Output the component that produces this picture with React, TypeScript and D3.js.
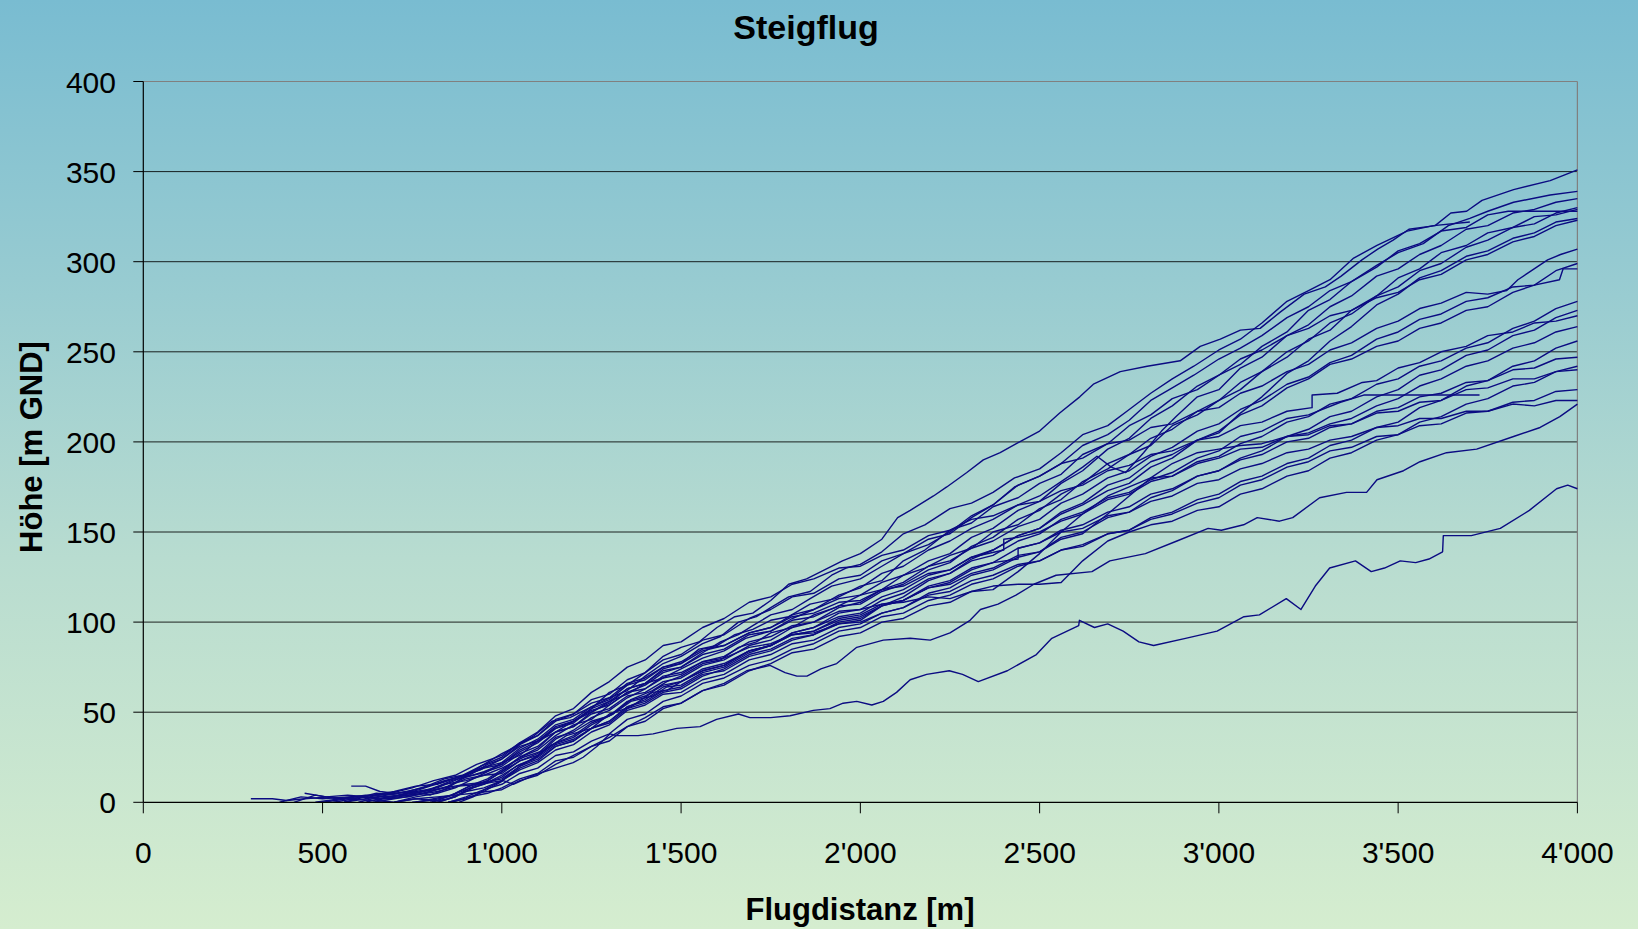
import React from "react";
import * as d3 from "d3";

type P = [number, number];

const xTicks = [0, 500, 1000, 1500, 2000, 2500, 3000, 3500, 4000];
const yTicks = [0, 50, 100, 150, 200, 250, 300, 350, 400];
const xTickLabels = ["0", "500", "1'000", "1'500", "2'000", "2'500", "3'000", "3'500", "4'000"];

const flightA: P[] = [[650,1],[700,0],[760,3],[820,5],[870,8],[920,13],[960,17],[1000,22],[1050,26],[1100,34],[1150,39],[1200,45],[1250,52],[1300,61],[1350,65],[1400,72],[1450,81],[1500,86],[1550,89],[1600,97],[1650,103],[1700,105],[1750,112],[1800,121],[1850,124],[1900,129],[1950,134],[2000,138],[2060,146],[2104,158],[2139,162],[2204,170],[2241,175],[2297,183],[2343,190],[2390,194],[2435,199],[2500,206],[2556,216],[2612,225],[2650,232],[2725,239],[2800,242],[2892,245],[2948,253],[3004,257],[3060,262],[3115,263],[3171,272],[3238,282],[3297,286],[3341,292],[3399,301],[3443,307],[3486,312],[3530,318],[3603,320],[3647,327],[3691,328],[3734,334],[3822,340],[3924,345],[4000,351]];
const flightB: P[] = [[580,9],[620,9],[660,6],[700,5],[750,6],[800,4],[850,8],[900,15],[950,21],[1000,27],[1040,31],[1090,37],[1140,45],[1190,47],[1250,53],[1300,58],[1350,62],[1400,70],[1450,77],[1500,81],[1560,88],[1610,92],[1660,100],[1710,103],[1750,108],[1800,114],[1860,117],[1920,126],[1960,130],[2000,132],[2060,139],[2120,149],[2180,154],[2250,163],[2310,166],[2370,172],[2430,180],[2500,185],[2560,194],[2620,204],[2690,209],[2750,218],[2810,227],[2870,235],[2930,242],[3000,251],[3060,257],[3120,266],[3190,278],[3250,284],[3310,290],[3376,302],[3441,309],[3525,317],[3599,320],[3700,322]];
const flightC: P[] = [[700,0],[760,2],[820,1],[870,5],[920,10],[960,13],[1000,18],[1050,25],[1100,29],[1150,37],[1200,43],[1250,46],[1300,54],[1350,61],[1400,65],[1450,72],[1500,75],[1560,83],[1610,89],[1660,93],[1700,98],[1750,104],[1810,107],[1860,113],[1920,120],[2000,124],[2060,131],[2120,138],[2190,143],[2250,150],[2310,159],[2370,165],[2430,175],[2500,181],[2560,188],[2620,198],[2690,204],[2750,212],[2810,223],[2870,230],[2930,237],[3000,246],[3060,252],[3120,259],[3190,269],[3250,275],[3310,284],[3370,289],[3440,298],[3500,305],[3570,310],[3640,320],[3700,324],[3750,328],[3822,333],[3924,337],[4000,339]];
const flightD: P[] = [[560,0],[620,3],[680,2],[740,3],[800,6],[850,9],[900,14],[950,17],[1000,21],[1050,28],[1100,33],[1150,41],[1200,45],[1250,50],[1300,56],[1350,60],[1400,66],[1450,69],[1500,74],[1560,80],[1620,84],[1680,91],[1750,95],[1810,102],[1870,107],[1940,115],[2000,119],[2060,127],[2120,131],[2190,140],[2250,145],[2310,152],[2370,157],[2440,165],[2500,170],[2560,178],[2620,186],[2660,192],[2700,186],[2740,183],[2790,194],[2840,206],[2880,214],[2940,225],[3000,229],[3060,241],[3120,247],[3190,259],[3250,265],[3310,275],[3370,281],[3440,292],[3500,296],[3560,304],[3620,309],[3690,318],[3750,320],[3820,327],[3880,329],[3940,333],[4000,335]];
const flightE: P[] = [[750,0],[800,1],[850,3],[900,7],[950,10],[1000,14],[1040,20],[1090,24],[1140,32],[1200,36],[1250,43],[1310,49],[1360,57],[1420,62],[1460,67],[1500,70],[1560,77],[1610,79],[1660,86],[1710,89],[1750,94],[1810,97],[1870,104],[1930,108],[2000,115],[2060,118],[2120,126],[2180,130],[2250,137],[2310,141],[2370,150],[2440,154],[2500,163],[2560,168],[2620,178],[2690,185],[2750,193],[2810,198],[2870,209],[2940,215],[3000,223],[3060,229],[3120,239],[3190,247],[3250,257],[3310,262],[3370,273],[3440,281],[3500,291],[3560,296],[3620,305],[3690,309],[3750,316],[3820,319],[3880,325],[3940,326],[4000,329]];
const flightF: P[] = [[820,0],[870,3],[910,8],[960,12],[1000,17],[1050,25],[1100,30],[1150,39],[1200,42],[1250,50],[1300,55],[1350,63],[1400,66],[1450,74],[1500,77],[1550,85],[1600,87],[1650,93],[1700,96],[1750,101],[1800,103],[1860,110],[1930,113],[2000,120],[2060,123],[2120,134],[2180,140],[2250,151],[2310,155],[2370,164],[2440,169],[2500,177],[2560,182],[2620,193],[2690,199],[2750,209],[2810,215],[2870,224],[2940,229],[3000,237],[3060,243],[3120,253],[3190,261],[3250,273],[3310,279],[3370,289],[3440,297],[3500,306],[3560,310],[3620,317],[3690,319],[3750,326],[3807,328],[4000,328]];
const flightG: P[] = [[500,0],[570,2],[640,1],[710,3],[780,5],[840,8],[900,13],[950,15],[1000,19],[1060,25],[1120,29],[1180,37],[1250,41],[1300,49],[1360,53],[1420,61],[1460,62],[1500,67],[1560,73],[1620,76],[1690,84],[1750,87],[1810,94],[1870,97],[1940,103],[2000,105],[2060,112],[2120,116],[2190,124],[2250,127],[2310,135],[2370,140],[2440,148],[2500,152],[2560,161],[2620,166],[2690,176],[2750,180],[2810,189],[2870,193],[2940,201],[3000,205],[3060,216],[3120,225],[3190,238],[3250,245],[3310,256],[3370,264],[3440,276],[3500,282],[3560,291],[3620,295],[3690,303],[3750,306],[3820,313],[3880,316],[3940,322],[4000,324]];
const flightH: P[] = [[620,0],[680,3],[740,4],[800,7],[860,12],[910,15],[960,21],[1000,24],[1050,32],[1100,37],[1150,46],[1200,49],[1250,57],[1300,60],[1350,68],[1400,72],[1450,79],[1500,82],[1560,90],[1620,93],[1690,102],[1750,107],[1810,114],[1870,116],[1940,124],[2000,126],[2060,134],[2120,138],[2190,146],[2250,149],[2310,158],[2370,165],[2440,176],[2500,181],[2560,188],[2620,191],[2690,199],[2750,201],[2810,208],[2870,210],[2940,217],[3000,219],[3060,227],[3120,231],[3190,239],[3250,243],[3310,251],[3370,255],[3440,263],[3500,267],[3560,274],[3620,277],[3690,283],[3750,282],[3803,284],[3834,290],[3917,301],[3953,304],[4000,307]];
const flightI: P[] = [[760,0],[810,2],[860,4],[910,9],[960,12],[1000,17],[1050,23],[1100,26],[1150,33],[1200,37],[1250,44],[1310,49],[1360,56],[1420,59],[1460,64],[1500,65],[1560,72],[1620,75],[1690,83],[1750,87],[1810,94],[1870,97],[1940,105],[2000,107],[2060,114],[2120,118],[2190,126],[2250,129],[2310,136],[2370,140],[2440,148],[2500,152],[2560,160],[2620,165],[2690,173],[2750,177],[2810,186],[2870,191],[2940,201],[3000,206],[3060,215],[3120,220],[3190,230],[3250,235],[3310,243],[3370,246],[3440,253],[3500,256],[3560,263],[3620,266],[3690,273],[3750,275],[3820,283],[3880,287],[3940,295],[4000,299]];
const flightJ: P[] = [[480,0],[550,2],[620,4],[690,3],[760,6],[820,8],[880,13],[940,16],[1000,20],[1050,27],[1100,31],[1150,39],[1200,42],[1250,49],[1300,52],[1350,59],[1400,61],[1450,67],[1500,69],[1560,76],[1620,79],[1690,87],[1750,90],[1810,97],[1870,100],[1940,108],[2000,111],[2060,118],[2120,122],[2190,131],[2250,134],[2310,141],[2370,145],[2440,153],[2500,157],[2560,166],[2620,171],[2690,180],[2750,184],[2810,192],[2870,197],[2940,206],[3000,210],[3060,218],[3120,223],[3190,232],[3250,236],[3310,244],[3370,248],[3440,257],[3500,261],[3560,268],[3620,271],[3690,278],[3750,280],[3820,286],[3880,287],[3950,290],[3960,296],[4000,296]];
const flightK: P[] = [[380,0],[440,3],[500,2],[570,3],[640,4],[710,5],[780,8],[840,12],[900,15],[950,19],[1000,21],[1050,29],[1100,34],[1150,42],[1200,45],[1250,51],[1300,54],[1350,61],[1400,63],[1450,69],[1500,71],[1560,78],[1620,81],[1690,89],[1750,92],[1810,98],[1870,100],[1940,106],[2000,107],[2060,110],[2120,111],[2190,114],[2250,113],[2310,117],[2370,118],[2440,128],[2500,138],[2560,150],[2620,160],[2690,170],[2750,175],[2810,180],[2870,181],[2940,189],[3000,192],[3060,199],[3120,203],[3190,211],[3250,214],[3310,221],[3370,224],[3440,232],[3500,235],[3560,242],[3620,245],[3690,252],[3750,255],[3820,263],[3880,267],[3940,274],[4000,278]];
const flightL: P[] = [[800,0],[850,2],[900,6],[950,8],[1000,12],[1050,18],[1100,22],[1150,29],[1200,32],[1250,39],[1300,43],[1350,51],[1400,54],[1450,60],[1500,61],[1560,68],[1620,71],[1690,79],[1750,82],[1810,88],[1870,90],[1940,97],[2000,99],[2060,105],[2120,108],[2190,116],[2250,119],[2310,126],[2370,129],[2440,136],[2500,139],[2560,147],[2620,150],[2690,158],[2750,161],[2810,169],[2870,173],[2940,181],[3000,184],[3060,191],[3120,195],[3190,203],[3250,207],[3310,214],[3370,217],[3440,225],[3500,229],[3560,237],[3620,240],[3690,248],[3750,251],[3820,259],[3880,262],[3940,269],[4000,273]];
const flightM: P[] = [[560,0],[620,2],[680,4],[740,6],[790,9],[840,13],[890,15],[940,20],[1000,25],[1050,33],[1100,39],[1150,48],[1200,52],[1250,61],[1300,67],[1350,75],[1400,79],[1450,87],[1500,89],[1560,97],[1620,102],[1690,111],[1750,114],[1810,121],[1870,124],[1940,130],[2000,131],[2060,137],[2120,140],[2190,148],[2250,151],[2310,157],[2370,159],[2440,165],[2500,167],[2560,173],[2620,176],[2690,184],[2750,187],[2810,193],[2870,195],[2940,201],[3000,203],[3060,209],[3120,211],[3190,217],[3260,219],[3260,226],[3330,227],[3400,233],[3440,234],[3500,241],[3560,244],[3620,250],[3690,253],[3750,259],[3820,261],[3880,266],[3940,267],[4000,270]];
const flightN: P[] = [[820,0],[870,3],[920,8],[960,11],[1000,15],[1050,21],[1100,25],[1150,32],[1200,35],[1250,41],[1300,45],[1350,53],[1400,57],[1450,64],[1500,67],[1560,73],[1620,76],[1690,84],[1750,87],[1810,93],[1870,95],[1940,102],[2000,104],[2060,110],[2120,112],[2190,119],[2250,121],[2310,127],[2370,130],[2440,137],[2500,139],[2560,146],[2620,149],[2690,160],[2750,170],[2810,180],[2870,188],[2940,194],[3000,196],[3060,198],[3120,199],[3190,203],[3250,205],[3310,210],[3370,213],[3440,220],[3500,224],[3560,231],[3620,235],[3690,242],[3750,245],[3820,252],[3880,255],[3940,261],[4000,264]];
const flightO: P[] = [[850,0],[900,3],[950,7],[1000,10],[1050,16],[1100,19],[1150,26],[1200,28],[1250,34],[1300,38],[1350,46],[1400,49],[1450,56],[1500,59],[1560,66],[1620,69],[1690,76],[1750,79],[1810,85],[1870,88],[1940,95],[2000,97],[2060,103],[2120,105],[2190,112],[2250,115],[2310,121],[2370,124],[2440,131],[2500,134],[2560,140],[2620,142],[2690,149],[2750,151],[2810,158],[2870,161],[2940,168],[3000,171],[3060,178],[3120,181],[3190,188],[3250,191],[3310,198],[3370,201],[3440,208],[3500,211],[3560,219],[3620,223],[3690,231],[3750,234],[3820,242],[3880,245],[3940,252],[4000,256]];
const flightP: P[] = [[420,0],[480,4],[540,2],[600,3],[660,2],[720,4],[780,6],[840,8],[900,10],[950,11],[1000,13],[1050,20],[1100,24],[1150,31],[1200,34],[1250,41],[1300,45],[1350,53],[1400,56],[1450,62],[1500,64],[1560,71],[1620,73],[1690,81],[1750,84],[1810,90],[1870,93],[1940,100],[2000,102],[2060,109],[2120,112],[2190,120],[2250,123],[2310,130],[2370,133],[2440,141],[2500,144],[2560,151],[2620,154],[2690,161],[2750,164],[2810,171],[2870,174],[2940,181],[3000,184],[3060,190],[3120,193],[3190,200],[3250,202],[3310,208],[3370,210],[3440,217],[3500,219],[3560,225],[3620,227],[3690,233],[3750,234],[3820,240],[3880,241],[3940,246],[4000,247]];
const flightQ: P[] = [[860,0],[910,3],[960,5],[1000,8],[1050,13],[1100,16],[1150,23],[1200,25],[1250,31],[1300,34],[1350,42],[1400,45],[1450,52],[1500,55],[1560,62],[1620,65],[1690,73],[1750,77],[1810,83],[1870,85],[1940,92],[2000,94],[2060,100],[2120,102],[2190,109],[2250,111],[2310,117],[2370,120],[2440,121],[2500,121],[2560,122],[2620,134],[2690,145],[2750,150],[2810,154],[2870,156],[2940,162],[3000,164],[3060,171],[3120,174],[3190,181],[3250,184],[3310,191],[3370,194],[3440,201],[3500,204],[3560,211],[3620,214],[3690,221],[3750,224],[3820,231],[3880,233],[3940,239],[4000,242]];
const flightR: P[] = [[530,0],[590,2],[650,5],[710,4],[770,7],[830,11],[880,14],[940,19],[1000,22],[1050,30],[1100,35],[1150,43],[1200,46],[1250,53],[1300,57],[1350,65],[1400,68],[1450,75],[1500,77],[1560,84],[1620,87],[1690,94],[1750,97],[1810,103],[1870,105],[1940,111],[2000,112],[2060,118],[2120,120],[2190,127],[2250,129],[2310,136],[2400,140],[2400,146],[2440,147],[2500,150],[2560,156],[2620,160],[2690,168],[2750,171],[2810,178],[2870,181],[2940,188],[3000,191],[3060,196],[3120,197],[3190,203],[3250,204],[3310,209],[3370,210],[3440,216],[3500,217],[3560,222],[3620,223],[3690,229],[3750,230],[3820,235],[3880,235],[3940,239],[4000,240]];
const flightS: P[] = [[880,0],[920,3],[960,8],[1000,12],[1050,20],[1100,26],[1150,35],[1200,40],[1250,47],[1300,51],[1350,58],[1400,63],[1450,70],[1500,72],[1560,78],[1620,80],[1690,86],[1750,88],[1810,93],[1870,94],[1940,99],[2000,100],[2060,105],[2120,108],[2190,115],[2250,117],[2310,123],[2370,126],[2440,132],[2500,134],[2560,140],[2620,143],[2690,149],[2750,151],[2810,157],[2870,160],[2940,166],[3000,169],[3060,176],[3120,179],[3190,186],[3250,189],[3310,195],[3370,197],[3440,203],[3500,204],[3560,209],[3620,210],[3690,216],[3750,217],[3820,222],[3880,223],[3940,228],[4000,229]];
const flightT: P[] = [[600,0],[660,3],[720,4],[780,6],[840,10],[900,12],[950,15],[1000,16],[1050,23],[1100,27],[1150,36],[1200,39],[1250,45],[1300,48],[1350,56],[1400,59],[1450,65],[1500,67],[1560,74],[1620,77],[1690,84],[1750,87],[1810,93],[1870,95],[1940,101],[2000,103],[2060,109],[2120,112],[2190,119],[2250,122],[2310,129],[2370,133],[2440,135],[2440,141],[2500,144],[2560,150],[2620,152],[2690,159],[2750,161],[2810,167],[2870,170],[2940,177],[3000,179],[3060,185],[3120,188],[3190,194],[3250,196],[3310,201],[3370,203],[3440,208],[3500,209],[3560,213],[3620,213],[3690,217],[3750,217],[3820,221],[3880,220],[3940,223],[4000,223]];
const flightU: P[] = [[700,0],[760,2],[820,3],[870,4],[920,5],[960,6],[1000,7],[1050,12],[1100,15],[1150,21],[1200,26],[1250,31],[1300,36],[1350,42],[1400,47],[1450,53],[1500,55],[1560,62],[1620,66],[1683,73],[1748,76],[1790,72],[1823,70],[1851,70],[1890,74],[1934,77],[1990,86],[2064,90],[2139,91],[2195,90],[2250,94],[2306,101],[2335,107],[2384,110],[2434,115],[2484,121],[2546,126],[2646,128],[2696,134],[2795,138],[2883,145],[2970,152],[3007,151],[3069,154],[3107,158],[3169,156],[3206,158],[3281,169],[3356,172],[3412,172],[3441,179],[3515,184],[3561,189],[3635,194],[3719,196],[3822,203],[3896,208],[3951,214],[4000,221]];
const flightV: P[] = [[640,0],[700,2],[760,4],[820,6],[880,9],[940,10],[1000,12],[1050,19],[1100,23],[1150,31],[1200,34],[1250,41],[1300,44],[1350,52],[1400,55],[1450,61],[1500,63],[1560,70],[1620,74],[1690,82],[1750,85],[1810,91],[1870,93],[1940,99],[2000,101],[2060,109],[2120,114],[2190,123],[2250,127],[2310,134],[2370,137],[2440,145],[2500,149],[2560,157],[2620,161],[2690,169],[2750,172],[2810,179],[2870,183],[2940,191],[3000,195],[3060,203],[3120,206],[3190,213],[3250,215],[3339,222],[3404,226],[3625,226],[3727,226]];
const flightW: P[] = [[850,0],[900,2],[950,6],[1004,12],[1032,10],[1088,15],[1150,19],[1199,22],[1227,25],[1265,31],[1302,38],[1320,37],[1380,37],[1422,38],[1488,41],[1553,42],[1599,46],[1660,49],[1692,47],[1750,47],[1804,48],[1869,51],[1915,52],[1952,55],[1990,56],[2032,54],[2064,56],[2101,61],[2139,68],[2185,71],[2248,73],[2285,71],[2329,67],[2410,73],[2491,82],[2534,91],[2609,98],[2611,101],[2653,97],[2690,99],[2733,95],[2777,89],[2818,87],[2907,91],[2995,95],[3070,103],[3113,104],[3188,113],[3229,107],[3269,120],[3309,130],[3381,134],[3425,128],[3462,130],[3506,134],[3549,133],[3586,135],[3624,139],[3626,148],[3704,148],[3785,152],[3866,162],[3942,174],[3973,176],[4000,174]];
const flightX: P[] = [[300,2],[360,2],[400,1],[450,2],[520,3],[580,2],[640,4],[700,6],[760,9],[820,10],[880,14],[940,18],[1000,24],[1050,31],[1100,34],[1150,41],[1200,44],[1250,52],[1300,56],[1350,63],[1400,66],[1450,73],[1500,75],[1560,82],[1620,85],[1690,93],[1750,95],[1810,101],[1870,103],[1940,109],[2000,110],[2060,117],[2120,121],[2190,129],[2250,133],[2310,142],[2370,147],[2440,157],[2500,162],[2560,171],[2620,177],[2690,188],[2750,193],[2810,202],[2870,207],[2940,217],[3000,223],[3060,233],[3120,239],[3190,250],[3250,256],[3310,266],[3370,271],[3440,281],[3500,286],[3560,295],[3620,299],[3690,308],[3750,312],[3820,319],[3880,321],[3940,327],[4000,330]];
const flightY: P[] = [[450,5],[510,3],[570,4],[630,3],[690,5],[750,8],[810,12],[870,15],[930,21],[1000,26],[1050,33],[1100,37],[1150,45],[1200,49],[1250,55],[1300,58],[1350,66],[1400,69],[1450,75],[1500,78],[1560,85],[1620,87],[1690,94],[1750,97],[1810,104],[1870,107],[1940,113],[2000,115],[2060,122],[2120,126],[2190,134],[2250,138],[2310,147],[2370,152],[2440,162],[2500,167],[2560,177],[2620,184],[2690,196],[2750,202],[2810,213],[2870,220],[2940,231],[3000,237],[3060,246],[3120,251],[3190,259],[3250,263],[3310,270],[3370,273],[3440,280],[3500,283],[3560,290],[3620,293],[3690,301],[3750,304],[3820,311],[3880,314],[3940,320],[4000,323]];

const flights: P[][] = [
  flightA, flightB, flightC, flightD, flightE, flightF, flightG, flightH, flightI,
  flightJ, flightK, flightL, flightM, flightN, flightO, flightP, flightQ, flightR,
  flightS, flightT, flightU, flightV, flightW, flightX, flightY,
];

const W = 1638;
const H = 929;
const M = { left: 143.3, right: 1577.4, top: 81.5, bottom: 802.3 };
const FONT = "'Liberation Sans', Arial, Helvetica, sans-serif";

export default function App() {
  const x = d3.scaleLinear().domain([0, 4000]).range([M.left, M.right]);
  const y = d3.scaleLinear().domain([0, 400]).range([M.bottom, M.top]);
  const line = d3
    .line<P>()
    .x((d) => x(d[0]))
    .y((d) => y(d[1]));

  return (
    <svg
      width={W}
      height={H}
      style={{ position: "absolute", left: 0, top: 0, display: "block" }}
      xmlns="http://www.w3.org/2000/svg"
    >
      <defs>
        <linearGradient id="bg" x1="0" y1="0" x2="0" y2="1">
          <stop offset="0%" stopColor="#79BCD1" />
          <stop offset="30%" stopColor="#97CBD1" />
          <stop offset="60%" stopColor="#B8DCD0" />
          <stop offset="100%" stopColor="#D5EDCF" />
        </linearGradient>
        <clipPath id="plotClip">
          <rect x={M.left} y={M.top - 2} width={M.right - M.left + 2} height={M.bottom - M.top + 2} />
        </clipPath>
      </defs>
      <rect x={0} y={0} width={W} height={H} fill="url(#bg)" />

      {yTicks.filter((t) => t > 0 && t < 400).map((t) => (
        <line key={"g" + t} x1={M.left} x2={M.right} y1={y(t)} y2={y(t)} stroke="#000" strokeWidth={1} strokeOpacity={0.85} />
      ))}
      <line x1={M.left} x2={M.right} y1={y(400)} y2={y(400)} stroke="#808080" strokeWidth={1.2} />
      <line x1={M.right} x2={M.right} y1={y(400)} y2={y(0)} stroke="#808080" strokeWidth={1.2} />

      <g clipPath="url(#plotClip)">
        {flights.map((f, i) => (
          <path key={i} d={line(f) || ""} fill="none" stroke="#0B0B82" strokeWidth={1.4} strokeLinejoin="round" />
        ))}
      </g>

      <line x1={M.left} x2={M.left} y1={y(400)} y2={y(0)} stroke="#000" strokeWidth={1.2} />
      <line x1={M.left} x2={M.right} y1={y(0)} y2={y(0)} stroke="#000" strokeWidth={1.2} />
      {yTicks.map((t) => (
        <g key={"yt" + t}>
          <line x1={M.left - 10} x2={M.left} y1={y(t)} y2={y(t)} stroke="#000" strokeWidth={1} />
          <text x={116} y={y(t) + 11} textAnchor="end" fontFamily={FONT} fontSize={30} fill="#000">
            {t}
          </text>
        </g>
      ))}
      {xTicks.map((t, i) => (
        <g key={"xt" + t}>
          <line x1={x(t)} x2={x(t)} y1={y(0)} y2={y(0) + 11} stroke="#000" strokeWidth={1} />
          <text x={x(t)} y={863} textAnchor="middle" fontFamily={FONT} fontSize={30} fill="#000">
            {xTickLabels[i]}
          </text>
        </g>
      ))}

      <text x={806} y={39} textAnchor="middle" fontFamily={FONT} fontWeight="bold" fontSize={34} fill="#000">
        Steigflug
      </text>
      <text x={860} y={920} textAnchor="middle" fontFamily={FONT} fontWeight="bold" fontSize={31} fill="#000">
        Flugdistanz [m]
      </text>
      <text
        transform={`translate(42,447) rotate(-90)`}
        textAnchor="middle"
        fontFamily={FONT}
        fontWeight="bold"
        fontSize={31}
        fill="#000"
      >
        Höhe [m GND]
      </text>
    </svg>
  );
}
